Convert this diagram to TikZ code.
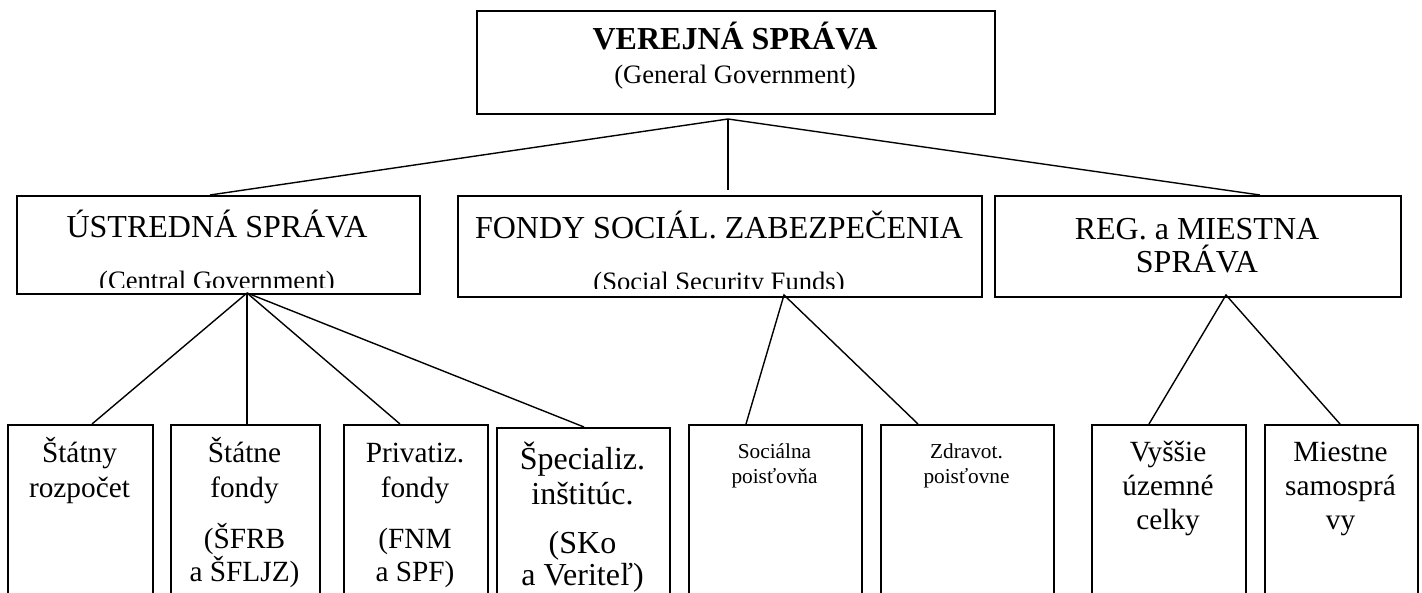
\documentclass[tikz,border=0pt]{standalone}
\usepackage{fontspec}
\setmainfont{Liberation Serif}
\begin{document}
\begin{tikzpicture}[x=1pt,y=-1pt,
  box/.style={draw, line width=1.6pt, inner sep=0pt, anchor=north west},
  conn/.style={line width=1.4pt},
  txt/.style={inner sep=0pt, anchor=base},
  tA/.style={txt, font=\fontsize{32}{36}\selectfont},
  tAb/.style={txt, font=\bfseries\fontsize{32}{36}\selectfont},
  tB/.style={txt, font=\fontsize{26.6}{30}\selectfont},
  tC/.style={txt, font=\fontsize{29.3}{33}\selectfont},
  tD/.style={txt, font=\fontsize{21.3}{25}\selectfont}]
\useasboundingbox (0,0) rectangle (1422,593);
\clip (0,0) rectangle (1422,593);

% level 1
\node[box, minimum width=518pt, minimum height=103pt] (gg) at (476,10) {};
\node[tAb] (ggt) at (735,50) {VEREJNÁ SPRÁVA};
\node[tB] (ggs) at (735,84) {(General Government)};

% level 2
\node[box, minimum width=403pt, minimum height=98pt] (cg) at (16,195) {};
\node[tA] (cgt) at (217,238) {ÚSTREDNÁ SPRÁVA};
\begin{scope}
  \clip (16,195) rectangle (419,288);
  \node[tB] (cgs) at (217,290) {(Central Government)};
\end{scope}

\node[box, minimum width=524pt, minimum height=101pt] (ss) at (457,195) {};
\node[tA] (sst) at (719,239) {FONDY SOCIÁL. ZABEZPEČENIA};
\begin{scope}
  \clip (457,195) rectangle (981,289);
  \node[tB] (sss) at (719,291) {(Social Security Funds)};
\end{scope}

\node[box, minimum width=406pt, minimum height=101pt] (rg) at (994,195) {};
\node[tA] (rgt1) at (1197,240) {REG. a MIESTNA};
\node[tA] (rgt2) at (1197,273) {SPRÁVA};

% level 3
\node[box, minimum width=145pt, minimum height=200pt] (b1) at (7,424) {};
\node[tC] at (79.5,463) {Štátny};
\node[tC] at (79.5,497) {rozpočet};

\node[box, minimum width=149pt, minimum height=200pt] (b2) at (170,424) {};
\node[tC] at (244.5,463) {Štátne};
\node[tC] at (244.5,497) {fondy};
\node[tC] at (244.5,548) {(ŠFRB};
\node[tC] at (244.5,581) {a ŠFLJZ)};

\node[box, minimum width=144pt, minimum height=200pt] (b3) at (343,424) {};
\node[tC] at (415,463) {Privatiz.};
\node[tC] at (415,497) {fondy};
\node[tC] at (415,548) {(FNM};
\node[tC] at (415,581) {a SPF)};

\node[box, minimum width=173pt, minimum height=200pt] (b4) at (496,427) {};
\node[tA] at (582.5,469) {Špecializ.};
\node[tA] at (582.5,504) {inštitúc.};
\node[tA] at (582.5,553) {(SKo};
\node[tA] at (582.5,585) {a Veriteľ)};

\node[box, minimum width=173pt, minimum height=200pt] (b5) at (688,424) {};
\node[tD] at (774.5,458) {Sociálna};
\node[tD] at (774.5,483) {poisťovňa};

\node[box, minimum width=173pt, minimum height=200pt] (b6) at (880,424) {};
\node[tD] at (966.5,458) {Zdravot.};
\node[tD] at (966.5,483) {poisťovne};

\node[box, minimum width=154pt, minimum height=200pt] (b7) at (1091,424) {};
\node[tC] at (1168,461) {Vyššie};
\node[tC] at (1168,495) {územné};
\node[tC] at (1168,529) {celky};

\node[box, minimum width=153pt, minimum height=200pt] (b8) at (1264,424) {};
\node[tC] at (1340.5,461) {Miestne};
\node[tC] at (1340.5,495) {samosprá};
\node[tC] at (1340.5,529) {vy};

% connector points
\coordinate (ggA) at (728,119);
\coordinate (ssV) at (728,190);
\coordinate (cgE) at (210,195);
\coordinate (rgE) at (1260,195);
\coordinate (cgA) at (247,293);
\coordinate (ssA) at (784,295);
\coordinate (rgA) at (1226,295);
\coordinate (b1E) at (92,424);
\coordinate (b2E) at (247,424);
\coordinate (b3E) at (400,424);
\coordinate (b4E) at (584,427);
\coordinate (b5E) at (746,424);
\coordinate (b6E) at (918,424);
\coordinate (b7E) at (1149,424);
\coordinate (b8E) at (1340,424);

\draw[conn] (cgE) -- (ggA) -- (rgE);
\draw[conn] (ggA) -- (ssV);
\draw[conn] (cgA) -- (b1E);
\draw[conn] (cgA) -- (b2E);
\draw[conn] (cgA) -- (b3E);
\draw[conn] (cgA) -- (b4E);
\draw[conn] (b5E) -- (ssA) -- (b6E);
\draw[conn] (b7E) -- (rgA) -- (b8E);
\end{tikzpicture}
\end{document}
